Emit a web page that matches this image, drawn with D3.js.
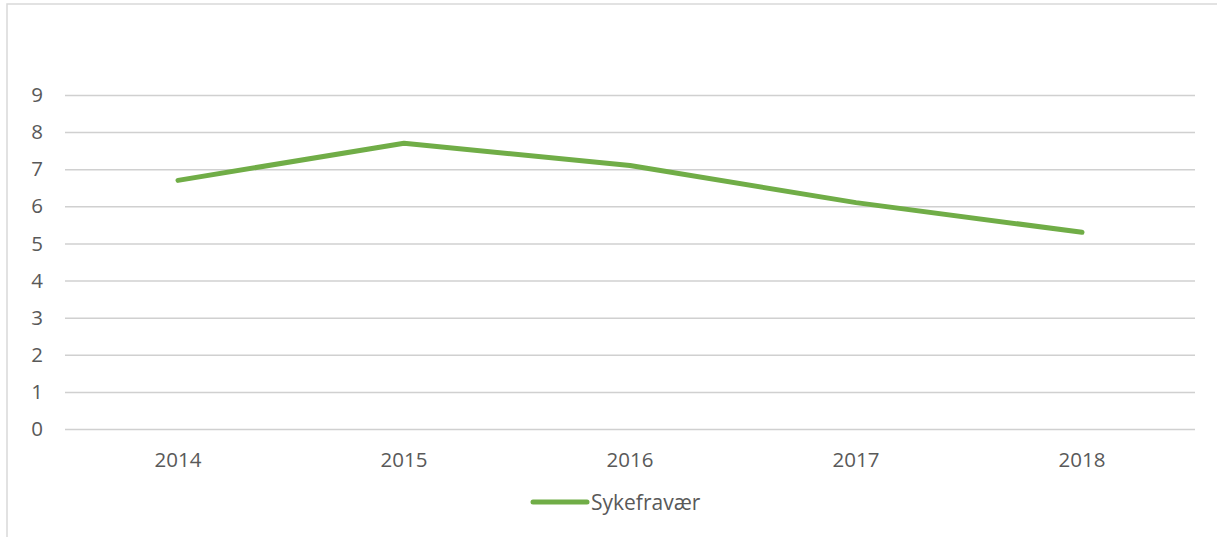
<!DOCTYPE html>
<html>
<head>
<meta charset="utf-8">
<script src="https://cdn.jsdelivr.net/npm/d3@7"></script>
<style>
  html, body { margin: 0; padding: 0; background: #fff; }
  svg { display: block; font-family: "Open Sans", sans-serif; }
</style>
</head>
<body>
<div id="chart"></div>
<script>
// data
const years = ["2014", "2015", "2016", "2017", "2018"];
const sykefravaer = [6.7, 7.7, 7.1, 6.1, 5.3];
const yTicks = [0, 1, 2, 3, 4, 5, 6, 7, 8, 9];
const seriesName = "Sykefravær";

const width = 1217, height = 537;
const margin = { top: 95, bottom: 108, left: 65, right: 22 };

const svg = d3.select("#chart").append("svg")
    .attr("width", width).attr("height", height);

// chart frame (only top/left visible in the crop)
svg.append("rect")
    .attr("x", 7).attr("y", 4)
    .attr("width", width + 20).attr("height", height + 20)
    .attr("fill", "none").attr("stroke", "#d9d9d9").attr("stroke-width", 1.5);

const x = d3.scaleBand().domain(years).range([margin.left, width - margin.right]);
const y = d3.scaleLinear().domain([0, 9]).range([height - margin.bottom, margin.top]);

// gridlines + y labels
const yAxis = d3.axisLeft(y).tickValues(yTicks).tickSize(-(width - margin.left - margin.right)).tickPadding(22);
const yg = svg.append("g").attr("transform", "translate(" + margin.left + ",0)").call(yAxis);
yg.select(".domain").remove();
yg.selectAll(".tick line").attr("stroke", "#d0d0d0").attr("stroke-width", 1.5);
yg.selectAll(".tick text").attr("fill", "#595959").style("font-size", "20.5px").style("font-family", "'Open Sans', sans-serif");

// x labels
const xAxis = d3.axisBottom(x).tickSize(0).tickPadding(23);
const xg = svg.append("g").attr("transform", "translate(0," + y(0) + ")").call(xAxis);
xg.select(".domain").remove();
xg.selectAll(".tick text").attr("fill", "#595959").style("font-size", "20.5px").style("font-family", "'Open Sans', sans-serif");

// the line
const line = d3.line()
    .x(function (d, i) { return x(years[i]) + x.bandwidth() / 2; })
    .y(function (d) { return y(d); });

svg.append("path")
    .datum(sykefravaer)
    .attr("d", line)
    .attr("fill", "none")
    .attr("stroke", "#70ad47")
    .attr("stroke-width", 5)
    .attr("stroke-linecap", "round")
    .attr("stroke-linejoin", "round");

// legend
const legend = svg.append("g").attr("transform", "translate(533,502)");
legend.append("line")
    .attr("x1", 0).attr("x2", 54).attr("y1", 0).attr("y2", 0)
    .attr("stroke", "#70ad47").attr("stroke-width", 5).attr("stroke-linecap", "round");
legend.append("text")
    .attr("x", 58).attr("y", 8)
    .attr("fill", "#595959").style("font-size", "21px")
    .text(seriesName);
</script>
</body>
</html>
